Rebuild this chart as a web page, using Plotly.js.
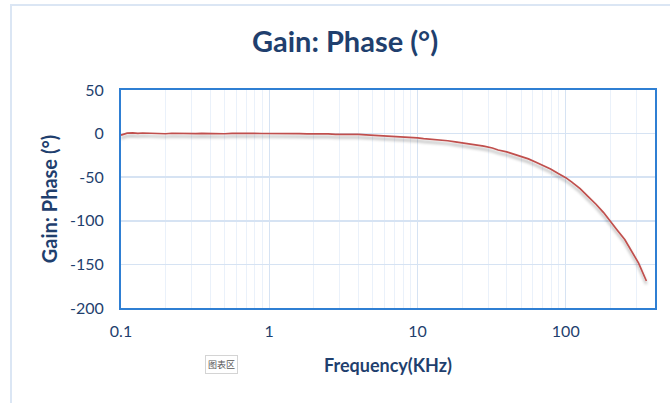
<!DOCTYPE html>
<html>
<head>
<meta charset="utf-8">
<script src="https://cdn.plot.ly/plotly-3.0.1.min.js"></script>
<style>
  html, body { margin: 0; padding: 0; background: #ffffff; }
  #chart { width: 670px; height: 403px; }
</style>
</head>
<body>
<div id="chart"></div>
<script>
// Frequency sweep points (kHz)
const frequencyKHz = [
  0.10, 0.11, 0.12, 0.13, 0.14, 0.16, 0.18, 0.20, 0.22, 0.25, 0.28, 0.32, 0.35, 0.40, 0.45, 0.50, 0.56, 0.63, 0.71, 0.79, 0.89,
  1.0, 1.1, 1.3, 1.4, 1.6, 1.8, 2.0, 2.2, 2.5, 2.8, 3.2, 3.5, 4.0, 4.5, 5.0, 5.6, 6.3, 7.1, 7.9, 8.9,
  10, 11, 13, 14, 16, 18, 20, 22, 25, 28, 32, 35, 40, 45, 50, 56, 63, 71, 79, 89,
  100, 110, 125, 140, 160, 180, 200, 220, 250, 280, 310, 350
];

// Measured phase (degrees)
const phaseDeg = [
  -1.8, 0.6, 0.9, 0.3, 0.7, 0.2, 0.5, -0.2, 0.4, 0.1, 0.6, -0.1, 0.3, 0.0, 0.5, -0.2, 0.2, 0.4, -0.1, 0.3, 0.1,
  0.2, -0.3, 0.1, -0.2, 0.0, -0.4, -0.1, -0.5, -0.3, -0.8, -0.6, -1.1, -1.0, -1.5, -1.9, -2.1, -2.8, -3.1, -3.9, -4.4,
  -5.0, -5.8, -6.6, -7.5, -8.2, -9.4, -10.6, -11.3, -13.0, -14.4, -16.5, -18.8, -21.0, -23.6, -26.5, -29.0, -32.8, -36.5, -40.6, -45.8,
  -50.5, -55.6, -63.0, -71.5, -81.0, -90.6, -101.0, -109.8, -121.5, -135.5, -148.5, -169.0
];

const xTickVals = [0.1, 1, 10, 100];
const xTickText = ['0.1', '1', '10', '100'];
const yTickVals = [50, 0, -50, -100, -150, -200];
const yTickText = ['50', '0', '-50', '-100', '-150', '-200'];

const navy = '#1f3f6e';
const frameBlue = '#2f7fd3';
const gridBlue = '#d6e3f3';
const minorGrid = '#eaf1fa';

const trace = {
  x: frequencyKHz,
  y: phaseDeg,
  type: 'scatter',
  mode: 'lines',
  line: { color: '#c0504d', width: 1.7 },
  hoverinfo: 'skip'
};

const layout = {
  width: 670,
  height: 403,
  margin: { l: 121, r: 15, t: 90, b: 95 },
  paper_bgcolor: '#ffffff',
  plot_bgcolor: '#ffffff',
  showlegend: false,
  font: { family: 'Lato, "Open Sans", sans-serif', color: navy },
  title: {
    text: '<b>Gain: Phase (°)</b>',
    font: { size: 29, color: navy, family: 'Lato, sans-serif' },
    x: 0.515, xanchor: 'center',
    y: 0.897, yanchor: 'middle'
  },
  xaxis: {
    type: 'log',
    range: [-1, Math.log10(400)],
    tickvals: xTickVals,
    ticktext: xTickText,
    ticks: '',
    ticklabelstandoff: 8,
    tickfont: { size: 16, color: navy },
    showgrid: true,
    gridcolor: gridBlue,
    gridwidth: 1,
    minor: { dtick: 'D1', showgrid: true, gridcolor: minorGrid, gridwidth: 1, ticks: '' },
    showline: true,
    linecolor: frameBlue,
    linewidth: 2,
    mirror: true,
    zeroline: false,
    title: {
      text: '<b>Frequency(KHz)</b>',
      font: { size: 18, color: navy },
      standoff: 20
    }
  },
  yaxis: {
    range: [-200, 50],
    tickvals: yTickVals,
    ticktext: yTickText,
    ticks: '',
    ticklabelstandoff: 12,
    tickfont: { size: 16, color: navy },
    showgrid: true,
    gridcolor: gridBlue,
    gridwidth: 1.5,
    showline: true,
    linecolor: frameBlue,
    linewidth: 2,
    mirror: true,
    zeroline: false,
    title: {
      text: '<b>Gain: Phase (°)</b>',
      font: { size: 20, color: navy },
      standoff: 7
    }
  },
  shapes: [
    {
      type: 'rect', xref: 'paper', yref: 'paper',
      x0: -0.206, x1: 1.06, y0: -0.5, y1: 1.39,
      line: { color: '#dbe6f4', width: 2 },
      fillcolor: 'rgba(0,0,0,0)',
      layer: 'below'
    }
  ],
  annotations: [
    {
      text: '图表区',
      xref: 'paper', yref: 'paper',
      x: 0.189, y: -0.261,
      xanchor: 'center', yanchor: 'middle',
      showarrow: false,
      font: { family: '"Noto Sans CJK SC", sans-serif', size: 9, color: '#555555' },
      bgcolor: '#ffffff',
      bordercolor: '#d4d4d4',
      borderwidth: 1,
      borderpad: 2
    }
  ]
};

Plotly.newPlot('chart', [trace], layout, { displayModeBar: false, staticPlot: true }).then(function (gd) {
  // soft drop shadow beneath the phase curve
  const svg = gd.querySelector('svg.main-svg');
  const ns = 'http://www.w3.org/2000/svg';
  let defs = svg.querySelector('defs');
  if (!defs) { defs = document.createElementNS(ns, 'defs'); svg.insertBefore(defs, svg.firstChild); }
  const filter = document.createElementNS(ns, 'filter');
  filter.setAttribute('id', 'curveShadow');
  filter.setAttribute('x', '-10%'); filter.setAttribute('y', '-50%');
  filter.setAttribute('width', '120%'); filter.setAttribute('height', '200%');
  filter.setAttribute('filterUnits', 'objectBoundingBox');
  const shadow = document.createElementNS(ns, 'feDropShadow');
  shadow.setAttribute('dx', '0'); shadow.setAttribute('dy', '3');
  shadow.setAttribute('stdDeviation', '1.6');
  shadow.setAttribute('flood-color', '#000000');
  shadow.setAttribute('flood-opacity', '0.35');
  filter.appendChild(shadow);
  defs.appendChild(filter);
  gd.querySelectorAll('.scatterlayer .trace path.js-line').forEach(function (p) {
    p.setAttribute('filter', 'url(#curveShadow)');
  });
});
</script>
</body>
</html>
